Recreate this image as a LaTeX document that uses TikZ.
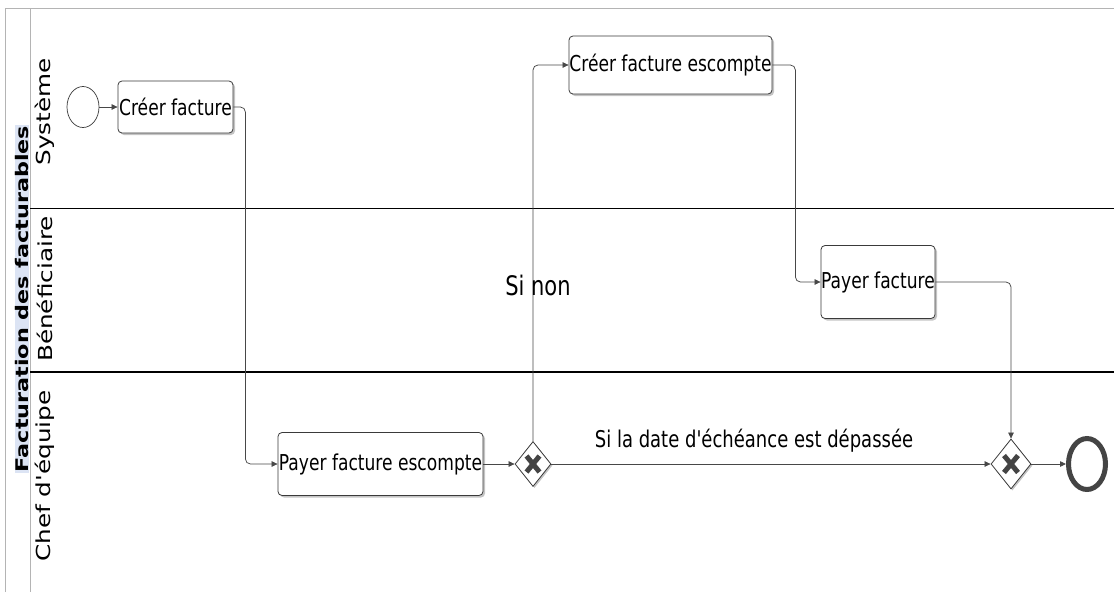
\documentclass[tikz,border=0pt]{standalone}
\usepackage{fontspec}
\setmainfont{DejaVu Sans}
\usetikzlibrary{shapes.geometric,arrows.meta,shadows}
\definecolor{frameline}{HTML}{B4B4B4}
\definecolor{taskline}{HTML}{3A3A3A}
\definecolor{shadowgray}{HTML}{C4C4C4}
\definecolor{conn}{HTML}{484848}
\definecolor{mark}{HTML}{444444}
\definecolor{hilite}{HTML}{DCE4F4}
\newcommand{\hstr}[1]{\scalebox{1}[1.28]{#1}}
\newcommand{\vstr}[1]{\scalebox{1.28}[1]{#1}}
\begin{document}
\begin{tikzpicture}[x=1pt,y=-1pt,
  task/.style={draw=taskline, line width=0.8pt, rounded corners=4pt, fill=white, inner sep=0pt,
    font=\fontsize{17.1}{20}\selectfont,
    drop shadow={shadow xshift=2pt, shadow yshift=-2pt, fill=shadowgray, opacity=1}},
  gateway/.style={diamond, draw=taskline, line width=0.8pt, fill=white, inner sep=0pt,
    drop shadow={shadow xshift=1.5pt, shadow yshift=-1.5pt, fill=shadowgray, opacity=1}},
  startev/.style={ellipse, draw=taskline, line width=0.7pt, fill=white, inner sep=0pt},
  endev/.style={ellipse, draw=mark, line width=5pt, fill=white, inner sep=0pt},
  flow/.style={draw=conn, line width=0.75pt, rounded corners=5pt, -{Triangle[length=6pt,width=5.5pt]}},
  xmark/.style={draw=mark, line width=5pt},
  lanelabel/.style={rotate=90, inner sep=0pt, font=\fontsize{19.3}{22}\selectfont},
  flowlabel/.style={inner sep=0pt}
]
\useasboundingbox (0,0) rectangle (1114,592);
% frame and lanes
\draw[frameline, line width=1pt] (5,592) -- (5,8) -- (1114,8);
\draw[frameline, line width=1pt] (30,8) -- (30,592);
\draw[black, line width=1pt] (30,208) -- (1114,208);
\draw[black, line width=1.2pt] (30,372) -- (1114,372);
% pool and lane labels
\node[rotate=90, fill=hilite, inner xsep=1pt, inner ysep=0.5pt, font=\bfseries\fontsize{17.4}{20}\selectfont] (pool) at (22,299) {\vstr{Facturation des facturables}};
\node[lanelabel] (lsys) at (45,112) {\vstr{Système}};
\node[lanelabel] (lben) at (45,289) {\vstr{Bénéficiaire}};
\node[lanelabel] (lchef) at (45,476) {\vstr{Chef d\textquotesingle équipe}};
% events and tasks
\node[startev, minimum width=32pt, minimum height=41pt] (start) at (83,107) {};
\node[task, minimum width=115pt, minimum height=52pt] (t1) at (175.5,107) {\hstr{Créer facture}};
\node[task, minimum width=205pt, minimum height=63pt] (p1) at (380.5,464) {\hstr{Payer facture escompte}};
\node[gateway, minimum width=36pt, minimum height=45pt] (g1) at (533,464) {};
\node[task, minimum width=203pt, minimum height=58pt] (c2) at (670.5,65) {\hstr{Créer facture escompte}};
\node[task, minimum width=114pt, minimum height=73pt] (pf) at (878,282) {\hstr{Payer facture}};
\node[gateway, minimum width=40pt, minimum height=50pt] (g2) at (1011,464) {};
\node[endev, minimum width=37pt, minimum height=51pt] (end) at (1087,464) {};
% gateway markers
\draw[xmark] ([shift={(-6.5,-8)}]g1.center) -- ([shift={(6.5,8)}]g1.center);
\draw[xmark] ([shift={(-6.5,8)}]g1.center) -- ([shift={(6.5,-8)}]g1.center);
\draw[xmark] ([shift={(-7,-8.5)}]g2.center) -- ([shift={(7,8.5)}]g2.center);
\draw[xmark] ([shift={(-7,8.5)}]g2.center) -- ([shift={(7,-8.5)}]g2.center);
% flows
\draw[flow] (start) -- (t1);
\draw[flow] (t1.east) -- ++(12,0) |- (p1.west);
\draw[flow] (p1) -- (g1);
\draw[flow] (g1.north) |- (c2.west);
\draw[flow] (c2.east) -- ++(23,0) |- (pf.west);
\draw[flow] (pf.east) -| (g2.north);
\draw[flow] (g1) -- (g2);
\draw[flow] (g2) -- (end);
% flow labels
\node[flowlabel, font=\fontsize{21}{24}\selectfont] (sinon) at (538,285) {\hstr{Si non}};
\node[flowlabel, font=\fontsize{18}{22}\selectfont] (sidate) at (754,441) {\hstr{Si la date d\textquotesingle échéance est dépassée}};
\end{tikzpicture}
\end{document}
